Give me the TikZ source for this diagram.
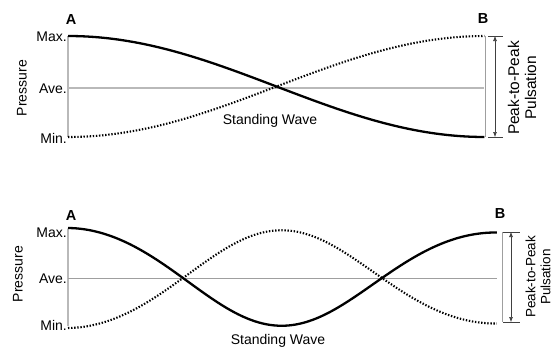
\documentclass[tikz,border=0pt]{standalone}
\usepackage{fontspec}
\setmainfont{Liberation Sans}
\usetikzlibrary{arrows.meta}
\begin{document}
\begin{tikzpicture}[x=1pt,y=-1pt,
  guide/.style={draw=gray!55,line width=1.6pt},
  thinguide/.style={draw=gray!75,line width=0.8pt},
  wave/.style={draw=black,line width=2.3pt},
  dotwave/.style={draw=black,line width=2.1pt,dash pattern=on 1.4pt off 1.7pt},
  dimline/.style={draw=black!75,line width=0.6pt},
  dimarrow/.style={draw=black!75,line width=0.6pt,{Latex[length=5pt,width=4pt]}-{Latex[length=5pt,width=4pt]}},
  lbl/.style={font=\fontsize{14}{14}\selectfont,inner sep=0pt},
  ends/.style={font=\fontsize{14.5}{14.5}\selectfont\bfseries,inner sep=0pt}]
\useasboundingbox (0,0) rectangle (555,349);
% ---------- top panel ----------
\coordinate (tMaxL) at (68,36);
\coordinate (tMinL) at (68,137);
\coordinate (tAveL) at (68,88);
\coordinate (tAveR) at (484,88);
\coordinate (tMaxR) at (485,36);
\coordinate (tMinR) at (485,137);
\draw[guide] (tMaxL) -- (tMinL);
\draw[guide] (tAveL) -- (tAveR);
\draw[thinguide] (tMaxR) -- (tMinR);
\draw[wave] plot[domain=0:1,samples=120,variable=\u] ({68+417*\u},{86.5-50.5*cos(180*\u)});
\draw[dotwave] plot[domain=0:1,samples=120,variable=\u] ({68+417*\u},{86.5+50.5*cos(180*\u)});
\coordinate (tT1) at (488,36); \coordinate (tT2) at (503,36);
\coordinate (tB1) at (488,137); \coordinate (tB2) at (503,137);
\coordinate (tAtop) at (495,36); \coordinate (tAbot) at (495,137);
\draw[dimline] (tT1) -- (tT2);
\draw[dimline] (tB1) -- (tB2);
\draw[dimarrow] (tAtop) -- (tAbot);
\node[ends] (tA) at (71,20) {A};
\node[ends] (tB) at (483,19) {B};
\node[lbl,anchor=east] (tMax) at (67,37) {Max.};
\node[lbl,anchor=east] (tAve) at (67,89) {Ave.};
\node[lbl,anchor=east] (tMin) at (67,138) {Min.};
\node[lbl,rotate=90] (tPress) at (22,88) {Pressure};
\node[lbl] (tSW) at (270,121) {Standing Wave};
\node[rotate=90,align=center,inner sep=0pt,font=\fontsize{15.5}{17}\selectfont] (tP2P) at (522,88) {Peak-to-Peak\\Pulsation};
% ---------- bottom panel ----------
\coordinate (bMaxL) at (68,229);
\coordinate (bMinL) at (68,326);
\coordinate (bAveL) at (68,278);
\coordinate (bAveR) at (497,278);
\coordinate (bMaxR) at (502,232);
\coordinate (bMinR) at (502,322);
\draw[guide] (bMaxL) -- (bMinL);
\draw[thinguide] (bAveL) -- (bAveR);
\draw[thinguide] (bMaxR) -- (bMinR);
\draw[wave] plot[domain=0:1,samples=160,variable=\u] ({68+429*\u},{278-(50-4.5*\u)*cos(deg(2*pi*\u-0.114*sin(deg(2*pi*\u))))});
\draw[dotwave] plot[domain=0:1,samples=160,variable=\u] ({68+429*\u},{278+(50-4.5*\u)*cos(deg(2*pi*\u-0.114*sin(deg(2*pi*\u))))});
\coordinate (bT1) at (503,232); \coordinate (bT2) at (520,232);
\coordinate (bB1) at (503,322); \coordinate (bB2) at (520,322);
\coordinate (bAtop) at (511,232); \coordinate (bAbot) at (511,322);
\draw[dimline] (bT1) -- (bT2);
\draw[dimline] (bB1) -- (bB2);
\draw[dimarrow] (bAtop) -- (bAbot);
\node[ends] (bA) at (71,216) {A};
\node[ends] (bB) at (500,214) {B};
\node[lbl,anchor=east] (bMax) at (67,233) {Max.};
\node[lbl,anchor=east] (bAve) at (67,279) {Ave.};
\node[lbl,anchor=east] (bMin) at (67,325) {Min.};
\node[lbl,rotate=90] (bPress) at (18,274) {Pressure};
\node[lbl] (bSW) at (278,341) {Standing Wave};
\node[rotate=90,align=center,inner sep=0pt,font=\fontsize{13.5}{15}\selectfont] (bP2P) at (538,277) {Peak-to-Peak\\Pulsation};
\end{tikzpicture}
\end{document}
